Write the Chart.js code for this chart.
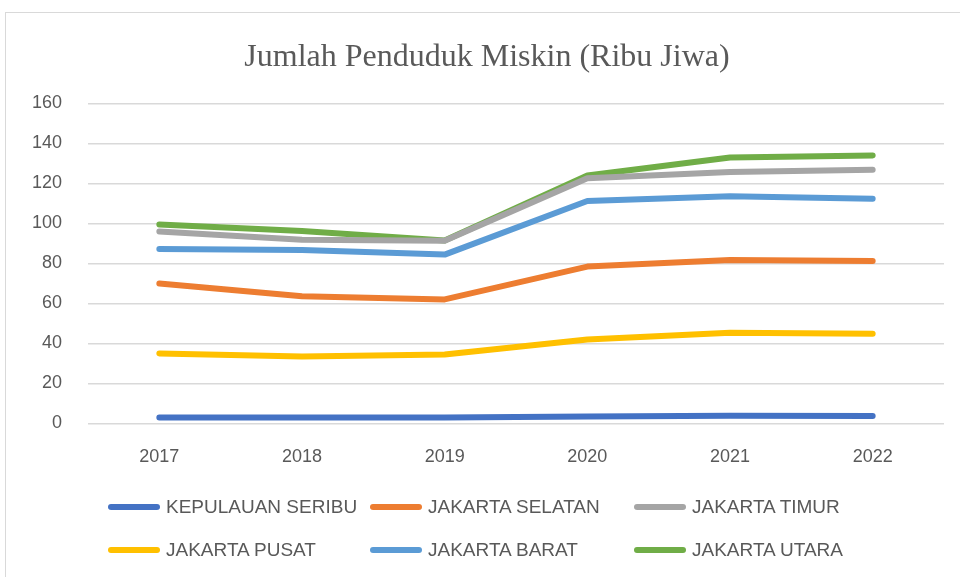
<!DOCTYPE html>
<html>
<head>
<meta charset="utf-8">
<script src="https://cdn.jsdelivr.net/npm/chart.js@4"></script>
<style>
  html, body { margin: 0; padding: 0; background: #fff; overflow: hidden; }
  #wrap { position: relative; width: 960px; height: 577px; }
  #frame { position: absolute; left: 5px; top: 12px; width: 1000px; height: 600px;
           border-left: 1.5px solid #d9d9d9; border-top: 1.5px solid #d9d9d9; }
  canvas { position: absolute; left: 0; top: 0; }
  #legend { position: absolute; left: 0; top: 0; width: 960px; height: 577px; pointer-events: none;
            font-family: "Liberation Sans", Arial, sans-serif; font-size: 19px; color: #595959; }
  .item { position: absolute; display: flex; align-items: center; height: 24px; white-space: nowrap; }
  .swatch { display: inline-block; width: 52px; height: 6px; border-radius: 3px; margin-right: 6px; }
</style>
</head>
<body>
<div id="wrap">
  <div id="frame"></div>
  <canvas id="chart" width="960" height="577"></canvas>
  <div id="legend"></div>
</div>
<script>
// Data
const years = ['2017', '2018', '2019', '2020', '2021', '2022'];

const kepulauanSeribu = [3.0, 2.9, 3.0, 3.5, 3.8, 3.7];
const jakartaSelatan = [70.0, 63.6, 62.0, 78.4, 81.7, 81.2];
const jakartaTimur = [96.0, 91.8, 91.3, 122.6, 125.7, 126.8];
const jakartaPusat = [35.0, 33.5, 34.4, 42.0, 45.3, 44.8];
const jakartaBarat = [87.2, 86.7, 84.4, 111.2, 113.6, 112.3];
const jakartaUtara = [99.5, 96.2, 91.5, 124.0, 133.0, 134.0];

const yTicks = [0, 20, 40, 60, 80, 100, 120, 140, 160];

// Colors
const colors = {
    seribu: '#4472C4',
    selatan: '#ED7D31',
    timur: '#A5A5A5',
    pusat: '#FFC000',
    barat: '#5B9BD5',
    utara: '#70AD47'
};

const textColor = '#595959';
const gridColor = '#d9d9d9';

function series(label, data, color) {
    return {
        label,
        data,
        borderColor: color,
        backgroundColor: color,
        borderWidth: 6,
        borderCapStyle: 'round',
        borderJoinStyle: 'round',
        pointRadius: 0,
        tension: 0,
        fill: false
    };
}

const datasets = [
    series('KEPULAUAN SERIBU', kepulauanSeribu, colors.seribu),
    series('JAKARTA SELATAN', jakartaSelatan, colors.selatan),
    series('JAKARTA TIMUR', jakartaTimur, colors.timur),
    series('JAKARTA PUSAT', jakartaPusat, colors.pusat),
    series('JAKARTA BARAT', jakartaBarat, colors.barat),
    series('JAKARTA UTARA', jakartaUtara, colors.utara)
];

const tickFont = { family: '"Liberation Sans", Arial, sans-serif', size: 18 };

const chart = new Chart(document.getElementById('chart'), {
    type: 'line',
    data: { labels: years, datasets },
    options: {
        responsive: false,
        animation: false,
        layout: { padding: { top: 12, right: 16, bottom: 94, left: 30 } },
        plugins: {
            legend: { display: false },
            tooltip: { enabled: false },
            title: {
                display: true,
                text: 'Jumlah Penduduk Miskin (Ribu Jiwa)',
                color: textColor,
                font: { family: '"Liberation Serif", "Times New Roman", serif', size: 32, weight: 'normal' },
                padding: { top: 26, bottom: 27 }
            }
        },
        scales: {
            x: {
                offset: true,
                grid: { display: false },
                border: { display: false },
                ticks: { color: textColor, font: tickFont, padding: 15 }
            },
            y: {
                min: 0,
                max: 160,
                afterFit: s => { s.width = 58; },
                afterBuildTicks: s => { s.ticks = yTicks.map(v => ({ value: v })); },
                grid: { color: gridColor, lineWidth: 1.5, drawTicks: false },
                border: { display: false },
                ticks: { color: textColor, font: tickFont, padding: 26 }
            }
        }
    }
});

// Legend in a 3-column grid, like the original
const legend = document.getElementById('legend');
const colX = [108, 370, 634];
const rowY = [495, 538];
chart.data.datasets.forEach((ds, i) => {
    const el = document.createElement('div');
    el.className = 'item';
    el.style.left = colX[i % 3] + 'px';
    el.style.top = rowY[Math.floor(i / 3)] + 'px';
    el.innerHTML = `<span class="swatch" style="background:${ds.borderColor}"></span>${ds.label}`;
    legend.appendChild(el);
});
</script>
</body>
</html>
